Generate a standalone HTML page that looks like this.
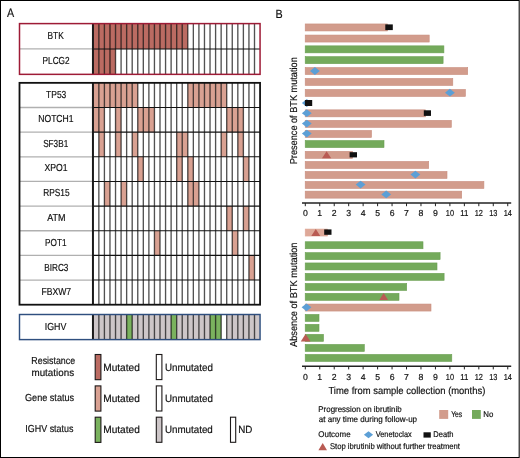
<!DOCTYPE html>
<html><head><meta charset="utf-8"><style>
html,body{margin:0;padding:0;background:#fff;}
body{width:520px;height:458px;overflow:hidden;position:relative;}
text{stroke:#111;stroke-width:0.18px;}
svg{display:block;will-change:transform;text-rendering:geometricPrecision;font-family:"Liberation Sans", sans-serif;}
</style></head><body>
<svg width="520" height="458" viewBox="0 0 520 458">
<rect x="0" y="0" width="520" height="458" fill="#fff"/>
<rect x="92.95" y="23.60" width="5.90" height="25.37" fill="#bb6b62"/>
<rect x="98.85" y="23.60" width="5.56" height="25.37" fill="#bb6b62"/>
<rect x="104.41" y="23.60" width="5.56" height="25.37" fill="#bb6b62"/>
<rect x="109.97" y="23.60" width="5.56" height="25.37" fill="#bb6b62"/>
<rect x="115.53" y="23.60" width="5.56" height="25.37" fill="#bb6b62"/>
<rect x="121.09" y="23.60" width="5.56" height="25.37" fill="#bb6b62"/>
<rect x="126.64" y="23.60" width="5.56" height="25.37" fill="#bb6b62"/>
<rect x="132.20" y="23.60" width="5.56" height="25.37" fill="#bb6b62"/>
<rect x="137.76" y="23.60" width="5.56" height="25.37" fill="#bb6b62"/>
<rect x="143.32" y="23.60" width="5.56" height="25.37" fill="#bb6b62"/>
<rect x="148.88" y="23.60" width="5.56" height="25.37" fill="#bb6b62"/>
<rect x="154.44" y="23.60" width="5.56" height="25.37" fill="#bb6b62"/>
<rect x="160.00" y="23.60" width="5.56" height="25.37" fill="#bb6b62"/>
<rect x="165.56" y="23.60" width="5.56" height="25.37" fill="#bb6b62"/>
<rect x="171.12" y="23.60" width="5.56" height="25.37" fill="#bb6b62"/>
<rect x="176.68" y="23.60" width="5.56" height="25.37" fill="#bb6b62"/>
<rect x="182.23" y="23.60" width="5.56" height="25.37" fill="#bb6b62"/>
<rect x="92.95" y="48.97" width="5.90" height="25.37" fill="#bb6b62"/>
<rect x="98.85" y="48.97" width="5.56" height="25.37" fill="#bb6b62"/>
<rect x="104.41" y="48.97" width="5.56" height="25.37" fill="#bb6b62"/>
<rect x="109.97" y="48.97" width="5.56" height="25.37" fill="#bb6b62"/>
<line x1="98.85" y1="23.6" x2="98.85" y2="74.35" stroke="#000" stroke-opacity="0.68" stroke-width="1.35"/>
<line x1="104.41" y1="23.6" x2="104.41" y2="74.35" stroke="#000" stroke-opacity="0.68" stroke-width="1.35"/>
<line x1="109.97" y1="23.6" x2="109.97" y2="74.35" stroke="#000" stroke-opacity="0.68" stroke-width="1.35"/>
<line x1="115.53" y1="23.6" x2="115.53" y2="74.35" stroke="#000" stroke-opacity="0.68" stroke-width="1.35"/>
<line x1="121.09" y1="23.6" x2="121.09" y2="74.35" stroke="#000" stroke-opacity="0.68" stroke-width="1.35"/>
<line x1="126.64" y1="23.6" x2="126.64" y2="74.35" stroke="#000" stroke-opacity="0.68" stroke-width="1.35"/>
<line x1="132.20" y1="23.6" x2="132.20" y2="74.35" stroke="#000" stroke-opacity="0.68" stroke-width="1.35"/>
<line x1="137.76" y1="23.6" x2="137.76" y2="74.35" stroke="#000" stroke-opacity="0.68" stroke-width="1.35"/>
<line x1="143.32" y1="23.6" x2="143.32" y2="74.35" stroke="#000" stroke-opacity="0.68" stroke-width="1.35"/>
<line x1="148.88" y1="23.6" x2="148.88" y2="74.35" stroke="#000" stroke-opacity="0.68" stroke-width="1.35"/>
<line x1="154.44" y1="23.6" x2="154.44" y2="74.35" stroke="#000" stroke-opacity="0.68" stroke-width="1.35"/>
<line x1="160.00" y1="23.6" x2="160.00" y2="74.35" stroke="#000" stroke-opacity="0.68" stroke-width="1.35"/>
<line x1="165.56" y1="23.6" x2="165.56" y2="74.35" stroke="#000" stroke-opacity="0.68" stroke-width="1.35"/>
<line x1="171.12" y1="23.6" x2="171.12" y2="74.35" stroke="#000" stroke-opacity="0.68" stroke-width="1.35"/>
<line x1="176.68" y1="23.6" x2="176.68" y2="74.35" stroke="#000" stroke-opacity="0.68" stroke-width="1.35"/>
<line x1="182.23" y1="23.6" x2="182.23" y2="74.35" stroke="#000" stroke-opacity="0.68" stroke-width="1.35"/>
<line x1="187.79" y1="23.6" x2="187.79" y2="74.35" stroke="#000" stroke-opacity="0.68" stroke-width="1.35"/>
<line x1="193.35" y1="23.6" x2="193.35" y2="74.35" stroke="#000" stroke-opacity="0.68" stroke-width="1.35"/>
<line x1="198.91" y1="23.6" x2="198.91" y2="74.35" stroke="#000" stroke-opacity="0.68" stroke-width="1.35"/>
<line x1="204.47" y1="23.6" x2="204.47" y2="74.35" stroke="#000" stroke-opacity="0.68" stroke-width="1.35"/>
<line x1="210.03" y1="23.6" x2="210.03" y2="74.35" stroke="#000" stroke-opacity="0.68" stroke-width="1.35"/>
<line x1="215.59" y1="23.6" x2="215.59" y2="74.35" stroke="#000" stroke-opacity="0.68" stroke-width="1.35"/>
<line x1="221.15" y1="23.6" x2="221.15" y2="74.35" stroke="#000" stroke-opacity="0.68" stroke-width="1.35"/>
<line x1="226.71" y1="23.6" x2="226.71" y2="74.35" stroke="#000" stroke-opacity="0.68" stroke-width="1.35"/>
<line x1="232.26" y1="23.6" x2="232.26" y2="74.35" stroke="#000" stroke-opacity="0.68" stroke-width="1.35"/>
<line x1="237.82" y1="23.6" x2="237.82" y2="74.35" stroke="#000" stroke-opacity="0.68" stroke-width="1.35"/>
<line x1="243.38" y1="23.6" x2="243.38" y2="74.35" stroke="#000" stroke-opacity="0.68" stroke-width="1.35"/>
<line x1="248.94" y1="23.6" x2="248.94" y2="74.35" stroke="#000" stroke-opacity="0.68" stroke-width="1.35"/>
<line x1="254.50" y1="23.6" x2="254.50" y2="74.35" stroke="#000" stroke-opacity="0.68" stroke-width="1.35"/>
<line x1="19.5" y1="48.97" x2="92.95" y2="48.97" stroke="#b0b0b0" stroke-width="1.3"/>
<line x1="92.95" y1="48.97" x2="260.06" y2="48.97" stroke="#111" stroke-width="1.1"/>
<line x1="92.95" y1="23.6" x2="92.95" y2="74.35" stroke="#1a1a1a" stroke-width="2.0"/>
<text x="47.42" y="38.7" font-size="10.2" fill="#111111" textLength="16.37" lengthAdjust="spacingAndGlyphs">BTK</text>
<text x="42.58" y="64.2" font-size="10.2" fill="#111111" textLength="27.01" lengthAdjust="spacingAndGlyphs">PLCG2</text>
<rect x="19.5" y="23.6" width="240.56" height="50.75" fill="none" stroke="#9e1b36" stroke-width="1.5"/>
<rect x="92.95" y="82.85" width="5.90" height="24.65" fill="#d9a192"/>
<rect x="98.85" y="82.85" width="5.56" height="24.65" fill="#d9a192"/>
<rect x="104.41" y="82.85" width="5.56" height="24.65" fill="#d9a192"/>
<rect x="109.97" y="82.85" width="5.56" height="24.65" fill="#d9a192"/>
<rect x="115.53" y="82.85" width="5.56" height="24.65" fill="#d9a192"/>
<rect x="121.09" y="82.85" width="5.56" height="24.65" fill="#d9a192"/>
<rect x="126.64" y="82.85" width="5.56" height="24.65" fill="#d9a192"/>
<rect x="132.20" y="82.85" width="5.56" height="24.65" fill="#d9a192"/>
<rect x="187.79" y="82.85" width="5.56" height="24.65" fill="#d9a192"/>
<rect x="193.35" y="82.85" width="5.56" height="24.65" fill="#d9a192"/>
<rect x="198.91" y="82.85" width="5.56" height="24.65" fill="#d9a192"/>
<rect x="204.47" y="82.85" width="5.56" height="24.65" fill="#d9a192"/>
<rect x="210.03" y="82.85" width="5.56" height="24.65" fill="#d9a192"/>
<rect x="215.59" y="82.85" width="5.56" height="24.65" fill="#d9a192"/>
<rect x="221.15" y="82.85" width="5.56" height="24.65" fill="#d9a192"/>
<rect x="92.95" y="107.50" width="5.90" height="24.65" fill="#d9a192"/>
<rect x="98.85" y="107.50" width="5.56" height="24.65" fill="#d9a192"/>
<rect x="115.53" y="107.50" width="5.56" height="24.65" fill="#d9a192"/>
<rect x="137.76" y="107.50" width="5.56" height="24.65" fill="#d9a192"/>
<rect x="143.32" y="107.50" width="5.56" height="24.65" fill="#d9a192"/>
<rect x="148.88" y="107.50" width="5.56" height="24.65" fill="#d9a192"/>
<rect x="226.71" y="107.50" width="5.56" height="24.65" fill="#d9a192"/>
<rect x="232.26" y="107.50" width="5.56" height="24.65" fill="#d9a192"/>
<rect x="237.82" y="107.50" width="5.56" height="24.65" fill="#d9a192"/>
<rect x="98.85" y="132.15" width="5.56" height="24.65" fill="#d9a192"/>
<rect x="115.53" y="132.15" width="5.56" height="24.65" fill="#d9a192"/>
<rect x="132.20" y="132.15" width="5.56" height="24.65" fill="#d9a192"/>
<rect x="176.68" y="132.15" width="5.56" height="24.65" fill="#d9a192"/>
<rect x="182.23" y="132.15" width="5.56" height="24.65" fill="#d9a192"/>
<rect x="221.15" y="132.15" width="5.56" height="24.65" fill="#d9a192"/>
<rect x="237.82" y="132.15" width="5.56" height="24.65" fill="#d9a192"/>
<rect x="137.76" y="156.80" width="5.56" height="24.65" fill="#d9a192"/>
<rect x="176.68" y="156.80" width="5.56" height="24.65" fill="#d9a192"/>
<rect x="187.79" y="156.80" width="5.56" height="24.65" fill="#d9a192"/>
<rect x="243.38" y="156.80" width="5.56" height="24.65" fill="#d9a192"/>
<rect x="104.41" y="181.45" width="5.56" height="24.65" fill="#d9a192"/>
<rect x="121.09" y="181.45" width="5.56" height="24.65" fill="#d9a192"/>
<rect x="187.79" y="181.45" width="5.56" height="24.65" fill="#d9a192"/>
<rect x="193.35" y="181.45" width="5.56" height="24.65" fill="#d9a192"/>
<rect x="226.71" y="206.10" width="5.56" height="24.65" fill="#d9a192"/>
<rect x="243.38" y="206.10" width="5.56" height="24.65" fill="#d9a192"/>
<rect x="154.44" y="230.75" width="5.56" height="24.65" fill="#d9a192"/>
<rect x="232.26" y="230.75" width="5.56" height="24.65" fill="#d9a192"/>
<rect x="248.94" y="255.40" width="5.56" height="24.65" fill="#d9a192"/>
<line x1="98.85" y1="82.85" x2="98.85" y2="304.7" stroke="#000" stroke-opacity="0.68" stroke-width="1.35"/>
<line x1="104.41" y1="82.85" x2="104.41" y2="304.7" stroke="#000" stroke-opacity="0.68" stroke-width="1.35"/>
<line x1="109.97" y1="82.85" x2="109.97" y2="304.7" stroke="#000" stroke-opacity="0.68" stroke-width="1.35"/>
<line x1="115.53" y1="82.85" x2="115.53" y2="304.7" stroke="#000" stroke-opacity="0.68" stroke-width="1.35"/>
<line x1="121.09" y1="82.85" x2="121.09" y2="304.7" stroke="#000" stroke-opacity="0.68" stroke-width="1.35"/>
<line x1="126.64" y1="82.85" x2="126.64" y2="304.7" stroke="#000" stroke-opacity="0.68" stroke-width="1.35"/>
<line x1="132.20" y1="82.85" x2="132.20" y2="304.7" stroke="#000" stroke-opacity="0.68" stroke-width="1.35"/>
<line x1="137.76" y1="82.85" x2="137.76" y2="304.7" stroke="#000" stroke-opacity="0.68" stroke-width="1.35"/>
<line x1="143.32" y1="82.85" x2="143.32" y2="304.7" stroke="#000" stroke-opacity="0.68" stroke-width="1.35"/>
<line x1="148.88" y1="82.85" x2="148.88" y2="304.7" stroke="#000" stroke-opacity="0.68" stroke-width="1.35"/>
<line x1="154.44" y1="82.85" x2="154.44" y2="304.7" stroke="#000" stroke-opacity="0.68" stroke-width="1.35"/>
<line x1="160.00" y1="82.85" x2="160.00" y2="304.7" stroke="#000" stroke-opacity="0.68" stroke-width="1.35"/>
<line x1="165.56" y1="82.85" x2="165.56" y2="304.7" stroke="#000" stroke-opacity="0.68" stroke-width="1.35"/>
<line x1="171.12" y1="82.85" x2="171.12" y2="304.7" stroke="#000" stroke-opacity="0.68" stroke-width="1.35"/>
<line x1="176.68" y1="82.85" x2="176.68" y2="304.7" stroke="#000" stroke-opacity="0.68" stroke-width="1.35"/>
<line x1="182.23" y1="82.85" x2="182.23" y2="304.7" stroke="#000" stroke-opacity="0.68" stroke-width="1.35"/>
<line x1="187.79" y1="82.85" x2="187.79" y2="304.7" stroke="#000" stroke-opacity="0.68" stroke-width="1.35"/>
<line x1="193.35" y1="82.85" x2="193.35" y2="304.7" stroke="#000" stroke-opacity="0.68" stroke-width="1.35"/>
<line x1="198.91" y1="82.85" x2="198.91" y2="304.7" stroke="#000" stroke-opacity="0.68" stroke-width="1.35"/>
<line x1="204.47" y1="82.85" x2="204.47" y2="304.7" stroke="#000" stroke-opacity="0.68" stroke-width="1.35"/>
<line x1="210.03" y1="82.85" x2="210.03" y2="304.7" stroke="#000" stroke-opacity="0.68" stroke-width="1.35"/>
<line x1="215.59" y1="82.85" x2="215.59" y2="304.7" stroke="#000" stroke-opacity="0.68" stroke-width="1.35"/>
<line x1="221.15" y1="82.85" x2="221.15" y2="304.7" stroke="#000" stroke-opacity="0.68" stroke-width="1.35"/>
<line x1="226.71" y1="82.85" x2="226.71" y2="304.7" stroke="#000" stroke-opacity="0.68" stroke-width="1.35"/>
<line x1="232.26" y1="82.85" x2="232.26" y2="304.7" stroke="#000" stroke-opacity="0.68" stroke-width="1.35"/>
<line x1="237.82" y1="82.85" x2="237.82" y2="304.7" stroke="#000" stroke-opacity="0.68" stroke-width="1.35"/>
<line x1="243.38" y1="82.85" x2="243.38" y2="304.7" stroke="#000" stroke-opacity="0.68" stroke-width="1.35"/>
<line x1="248.94" y1="82.85" x2="248.94" y2="304.7" stroke="#000" stroke-opacity="0.68" stroke-width="1.35"/>
<line x1="254.50" y1="82.85" x2="254.50" y2="304.7" stroke="#000" stroke-opacity="0.68" stroke-width="1.35"/>
<line x1="19.5" y1="107.50" x2="92.95" y2="107.50" stroke="#b0b0b0" stroke-width="1.3"/>
<line x1="92.95" y1="107.50" x2="260.06" y2="107.50" stroke="#111" stroke-width="1.1"/>
<line x1="19.5" y1="132.15" x2="92.95" y2="132.15" stroke="#b0b0b0" stroke-width="1.3"/>
<line x1="92.95" y1="132.15" x2="260.06" y2="132.15" stroke="#111" stroke-width="1.1"/>
<line x1="19.5" y1="156.80" x2="92.95" y2="156.80" stroke="#b0b0b0" stroke-width="1.3"/>
<line x1="92.95" y1="156.80" x2="260.06" y2="156.80" stroke="#111" stroke-width="1.1"/>
<line x1="19.5" y1="181.45" x2="92.95" y2="181.45" stroke="#b0b0b0" stroke-width="1.3"/>
<line x1="92.95" y1="181.45" x2="260.06" y2="181.45" stroke="#111" stroke-width="1.1"/>
<line x1="19.5" y1="206.10" x2="92.95" y2="206.10" stroke="#b0b0b0" stroke-width="1.3"/>
<line x1="92.95" y1="206.10" x2="260.06" y2="206.10" stroke="#111" stroke-width="1.1"/>
<line x1="19.5" y1="230.75" x2="92.95" y2="230.75" stroke="#b0b0b0" stroke-width="1.3"/>
<line x1="92.95" y1="230.75" x2="260.06" y2="230.75" stroke="#111" stroke-width="1.1"/>
<line x1="19.5" y1="255.40" x2="92.95" y2="255.40" stroke="#b0b0b0" stroke-width="1.3"/>
<line x1="92.95" y1="255.40" x2="260.06" y2="255.40" stroke="#111" stroke-width="1.1"/>
<line x1="19.5" y1="280.05" x2="92.95" y2="280.05" stroke="#b0b0b0" stroke-width="1.3"/>
<line x1="92.95" y1="280.05" x2="260.06" y2="280.05" stroke="#111" stroke-width="1.1"/>
<line x1="92.95" y1="82.85" x2="92.95" y2="304.7" stroke="#1a1a1a" stroke-width="2.0"/>
<text x="46.10" y="97.7" font-size="10.2" fill="#111111" textLength="20.24" lengthAdjust="spacingAndGlyphs">TP53</text>
<text x="38.25" y="122.2" font-size="10.2" fill="#111111" textLength="35.30" lengthAdjust="spacingAndGlyphs">NOTCH1</text>
<text x="43.15" y="146.7" font-size="10.2" fill="#111111" textLength="25.06" lengthAdjust="spacingAndGlyphs">SF3B1</text>
<text x="44.48" y="171.4" font-size="10.2" fill="#111111" textLength="23.13" lengthAdjust="spacingAndGlyphs">XPO1</text>
<text x="43.15" y="196.2" font-size="10.2" fill="#111111" textLength="26.45" lengthAdjust="spacingAndGlyphs">RPS15</text>
<text x="47.18" y="220.7" font-size="10.2" fill="#111111" textLength="18.31" lengthAdjust="spacingAndGlyphs">ATM</text>
<text x="45.12" y="245.7" font-size="10.2" fill="#111111" textLength="21.51" lengthAdjust="spacingAndGlyphs">POT1</text>
<text x="44.27" y="270.6" font-size="10.2" fill="#111111" textLength="24.15" lengthAdjust="spacingAndGlyphs">BIRC3</text>
<text x="41.39" y="295.2" font-size="10.2" fill="#111111" textLength="29.81" lengthAdjust="spacingAndGlyphs">FBXW7</text>
<rect x="19.5" y="82.85" width="240.56" height="221.85" fill="none" stroke="#111" stroke-width="1.8"/>
<rect x="92.95" y="314.50" width="5.90" height="25.10" fill="#cdc6c8"/>
<rect x="98.85" y="314.50" width="5.56" height="25.10" fill="#cdc6c8"/>
<rect x="104.41" y="314.50" width="5.56" height="25.10" fill="#cdc6c8"/>
<rect x="109.97" y="314.50" width="5.56" height="25.10" fill="#cdc6c8"/>
<rect x="115.53" y="314.50" width="5.56" height="25.10" fill="#cdc6c8"/>
<rect x="121.09" y="314.50" width="5.56" height="25.10" fill="#cdc6c8"/>
<rect x="126.64" y="314.50" width="5.56" height="25.10" fill="#7ab25e"/>
<rect x="132.20" y="314.50" width="5.56" height="25.10" fill="#cdc6c8"/>
<rect x="137.76" y="314.50" width="5.56" height="25.10" fill="#cdc6c8"/>
<rect x="143.32" y="314.50" width="5.56" height="25.10" fill="#cdc6c8"/>
<rect x="148.88" y="314.50" width="5.56" height="25.10" fill="#cdc6c8"/>
<rect x="154.44" y="314.50" width="5.56" height="25.10" fill="#cdc6c8"/>
<rect x="160.00" y="314.50" width="5.56" height="25.10" fill="#cdc6c8"/>
<rect x="165.56" y="314.50" width="5.56" height="25.10" fill="#cdc6c8"/>
<rect x="171.12" y="314.50" width="5.56" height="25.10" fill="#7ab25e"/>
<rect x="176.68" y="314.50" width="5.56" height="25.10" fill="#cdc6c8"/>
<rect x="182.23" y="314.50" width="5.56" height="25.10" fill="#cdc6c8"/>
<rect x="187.79" y="314.50" width="5.56" height="25.10" fill="#cdc6c8"/>
<rect x="193.35" y="314.50" width="5.56" height="25.10" fill="#cdc6c8"/>
<rect x="198.91" y="314.50" width="5.56" height="25.10" fill="#cdc6c8"/>
<rect x="204.47" y="314.50" width="5.56" height="25.10" fill="#cdc6c8"/>
<rect x="210.03" y="314.50" width="5.56" height="25.10" fill="#7ab25e"/>
<rect x="215.59" y="314.50" width="5.56" height="25.10" fill="#7ab25e"/>
<rect x="226.71" y="314.50" width="5.56" height="25.10" fill="#cdc6c8"/>
<rect x="232.26" y="314.50" width="5.56" height="25.10" fill="#cdc6c8"/>
<rect x="237.82" y="314.50" width="5.56" height="25.10" fill="#cdc6c8"/>
<rect x="243.38" y="314.50" width="5.56" height="25.10" fill="#cdc6c8"/>
<rect x="248.94" y="314.50" width="5.56" height="25.10" fill="#cdc6c8"/>
<rect x="254.50" y="314.50" width="5.56" height="25.10" fill="#cdc6c8"/>
<line x1="98.85" y1="314.5" x2="98.85" y2="339.6" stroke="#000" stroke-opacity="0.68" stroke-width="1.35"/>
<line x1="104.41" y1="314.5" x2="104.41" y2="339.6" stroke="#000" stroke-opacity="0.68" stroke-width="1.35"/>
<line x1="109.97" y1="314.5" x2="109.97" y2="339.6" stroke="#000" stroke-opacity="0.68" stroke-width="1.35"/>
<line x1="115.53" y1="314.5" x2="115.53" y2="339.6" stroke="#000" stroke-opacity="0.68" stroke-width="1.35"/>
<line x1="121.09" y1="314.5" x2="121.09" y2="339.6" stroke="#000" stroke-opacity="0.68" stroke-width="1.35"/>
<line x1="126.64" y1="314.5" x2="126.64" y2="339.6" stroke="#000" stroke-opacity="0.68" stroke-width="1.35"/>
<line x1="132.20" y1="314.5" x2="132.20" y2="339.6" stroke="#000" stroke-opacity="0.68" stroke-width="1.35"/>
<line x1="137.76" y1="314.5" x2="137.76" y2="339.6" stroke="#000" stroke-opacity="0.68" stroke-width="1.35"/>
<line x1="143.32" y1="314.5" x2="143.32" y2="339.6" stroke="#000" stroke-opacity="0.68" stroke-width="1.35"/>
<line x1="148.88" y1="314.5" x2="148.88" y2="339.6" stroke="#000" stroke-opacity="0.68" stroke-width="1.35"/>
<line x1="154.44" y1="314.5" x2="154.44" y2="339.6" stroke="#000" stroke-opacity="0.68" stroke-width="1.35"/>
<line x1="160.00" y1="314.5" x2="160.00" y2="339.6" stroke="#000" stroke-opacity="0.68" stroke-width="1.35"/>
<line x1="165.56" y1="314.5" x2="165.56" y2="339.6" stroke="#000" stroke-opacity="0.68" stroke-width="1.35"/>
<line x1="171.12" y1="314.5" x2="171.12" y2="339.6" stroke="#000" stroke-opacity="0.68" stroke-width="1.35"/>
<line x1="176.68" y1="314.5" x2="176.68" y2="339.6" stroke="#000" stroke-opacity="0.68" stroke-width="1.35"/>
<line x1="182.23" y1="314.5" x2="182.23" y2="339.6" stroke="#000" stroke-opacity="0.68" stroke-width="1.35"/>
<line x1="187.79" y1="314.5" x2="187.79" y2="339.6" stroke="#000" stroke-opacity="0.68" stroke-width="1.35"/>
<line x1="193.35" y1="314.5" x2="193.35" y2="339.6" stroke="#000" stroke-opacity="0.68" stroke-width="1.35"/>
<line x1="198.91" y1="314.5" x2="198.91" y2="339.6" stroke="#000" stroke-opacity="0.68" stroke-width="1.35"/>
<line x1="204.47" y1="314.5" x2="204.47" y2="339.6" stroke="#000" stroke-opacity="0.68" stroke-width="1.35"/>
<line x1="210.03" y1="314.5" x2="210.03" y2="339.6" stroke="#000" stroke-opacity="0.68" stroke-width="1.35"/>
<line x1="215.59" y1="314.5" x2="215.59" y2="339.6" stroke="#000" stroke-opacity="0.68" stroke-width="1.35"/>
<line x1="221.15" y1="314.5" x2="221.15" y2="339.6" stroke="#000" stroke-opacity="0.68" stroke-width="1.35"/>
<line x1="226.71" y1="314.5" x2="226.71" y2="339.6" stroke="#000" stroke-opacity="0.68" stroke-width="1.35"/>
<line x1="232.26" y1="314.5" x2="232.26" y2="339.6" stroke="#000" stroke-opacity="0.68" stroke-width="1.35"/>
<line x1="237.82" y1="314.5" x2="237.82" y2="339.6" stroke="#000" stroke-opacity="0.68" stroke-width="1.35"/>
<line x1="243.38" y1="314.5" x2="243.38" y2="339.6" stroke="#000" stroke-opacity="0.68" stroke-width="1.35"/>
<line x1="248.94" y1="314.5" x2="248.94" y2="339.6" stroke="#000" stroke-opacity="0.68" stroke-width="1.35"/>
<line x1="254.50" y1="314.5" x2="254.50" y2="339.6" stroke="#000" stroke-opacity="0.68" stroke-width="1.35"/>
<line x1="92.95" y1="314.5" x2="92.95" y2="339.6" stroke="#1a1a1a" stroke-width="2.0"/>
<text x="44.68" y="329.5" font-size="10.2" fill="#111111" textLength="21.64" lengthAdjust="spacingAndGlyphs">IGHV</text>
<rect x="19.5" y="314.5" width="240.56" height="25.10" fill="none" stroke="#2f4f7f" stroke-width="1.45"/>
<rect x="95.2" y="354.5" width="5.7" height="25.2" fill="#bb6b62" stroke="#1c1818" stroke-width="1.1"/>
<rect x="156.3" y="354.5" width="5.6" height="25.1" fill="#fff" stroke="#1c1818" stroke-width="1.1"/>
<rect x="95.2" y="385.9" width="5.7" height="25.2" fill="#d9a192" stroke="#1c1818" stroke-width="1.1"/>
<rect x="156.3" y="385.9" width="5.6" height="25.1" fill="#fff" stroke="#1c1818" stroke-width="1.1"/>
<rect x="95.2" y="417.2" width="5.7" height="25.2" fill="#7ab25e" stroke="#1c1818" stroke-width="1.1"/>
<rect x="156.3" y="417.2" width="5.6" height="25.1" fill="#cdc6c8" stroke="#1c1818" stroke-width="1.1"/>
<rect x="230.5" y="417.2" width="5.2" height="25.1" fill="#fff" stroke="#1c1818" stroke-width="1.1"/>
<text x="103.26" y="370.7" font-size="10.4" fill="#111111" textLength="36.55" lengthAdjust="spacingAndGlyphs">Mutated</text>
<text x="103.26" y="401.8" font-size="10.4" fill="#111111" textLength="36.55" lengthAdjust="spacingAndGlyphs">Mutated</text>
<text x="103.26" y="432.9" font-size="10.4" fill="#111111" textLength="36.55" lengthAdjust="spacingAndGlyphs">Mutated</text>
<text x="164.88" y="370.9" font-size="10.4" fill="#111111" textLength="47.97" lengthAdjust="spacingAndGlyphs">Unmutated</text>
<text x="164.88" y="401.9" font-size="10.4" fill="#111111" textLength="47.97" lengthAdjust="spacingAndGlyphs">Unmutated</text>
<text x="164.88" y="433.0" font-size="10.4" fill="#111111" textLength="47.93" lengthAdjust="spacingAndGlyphs">Unmutated</text>
<text x="238.18" y="433.0" font-size="10.4" fill="#111111" textLength="14.16" lengthAdjust="spacingAndGlyphs">ND</text>
<text x="31.35" y="363.9" font-size="10.2" fill="#111111" textLength="43.77" lengthAdjust="spacingAndGlyphs">Resistance</text>
<text x="31.48" y="375.5" font-size="10.2" fill="#111111" textLength="42.59" lengthAdjust="spacingAndGlyphs">mutations</text>
<text x="24.97" y="401.4" font-size="10.2" fill="#111111" textLength="49.17" lengthAdjust="spacingAndGlyphs">Gene status</text>
<text x="25.35" y="432.4" font-size="10.2" fill="#111111" textLength="48.11" lengthAdjust="spacingAndGlyphs">IGHV status</text>
<text x="7.11" y="17.0" font-size="12.3" fill="#111111" textLength="7.16" lengthAdjust="spacingAndGlyphs">A</text>
<text x="275.58" y="17.6" font-size="12.0" fill="#111111" textLength="7.17" lengthAdjust="spacingAndGlyphs">B</text>
<rect x="305.2" y="23.95" width="82.30" height="7.0" fill="#d29c8c" stroke="#c88e7e" stroke-width="0.6"/>
<rect x="305.2" y="35.050000000000004" width="124.00" height="7.0" fill="#d29c8c" stroke="#c88e7e" stroke-width="0.6"/>
<rect x="305.2" y="45.85" width="138.70" height="7.0" fill="#74aa5b" stroke="#6a9f52" stroke-width="0.6"/>
<rect x="305.2" y="56.650000000000006" width="137.90" height="7.0" fill="#74aa5b" stroke="#6a9f52" stroke-width="0.6"/>
<rect x="305.2" y="67.55" width="162.50" height="7.0" fill="#d29c8c" stroke="#c88e7e" stroke-width="0.6"/>
<rect x="305.2" y="78.45" width="147.60" height="7.0" fill="#d29c8c" stroke="#c88e7e" stroke-width="0.6"/>
<rect x="305.2" y="89.45" width="160.20" height="7.0" fill="#d29c8c" stroke="#c88e7e" stroke-width="0.6"/>
<rect x="305.2" y="109.85000000000001" width="120.30" height="7.0" fill="#d29c8c" stroke="#c88e7e" stroke-width="0.6"/>
<rect x="305.2" y="120.35000000000001" width="146.10" height="7.0" fill="#d29c8c" stroke="#c88e7e" stroke-width="0.6"/>
<rect x="305.2" y="130.45" width="66.30" height="7.0" fill="#d29c8c" stroke="#c88e7e" stroke-width="0.6"/>
<rect x="305.2" y="140.54999999999998" width="78.80" height="7.0" fill="#74aa5b" stroke="#6a9f52" stroke-width="0.6"/>
<rect x="305.2" y="151.35" width="47.40" height="7.0" fill="#d29c8c" stroke="#c88e7e" stroke-width="0.6"/>
<rect x="305.2" y="161.45" width="123.50" height="7.0" fill="#d29c8c" stroke="#c88e7e" stroke-width="0.6"/>
<rect x="305.2" y="171.45" width="141.80" height="7.0" fill="#d29c8c" stroke="#c88e7e" stroke-width="0.6"/>
<rect x="305.2" y="181.45" width="178.70" height="7.0" fill="#d29c8c" stroke="#c88e7e" stroke-width="0.6"/>
<rect x="305.2" y="191.14999999999998" width="156.50" height="7.0" fill="#d29c8c" stroke="#c88e7e" stroke-width="0.6"/>
<polygon points="310.00,71.00 314.90,67.10 319.80,71.00 314.90,74.90" fill="#5c9fd6"/>
<polygon points="445.00,92.70 449.90,88.80 454.80,92.70 449.90,96.60" fill="#5c9fd6"/>
<polygon points="301.90,103.00 306.80,99.10 311.70,103.00 306.80,106.90" fill="#5c9fd6"/>
<rect x="304.9" y="100.0" width="7.30" height="6.00" fill="#111111"/>
<polygon points="301.90,113.20 306.80,109.30 311.70,113.20 306.80,117.10" fill="#5c9fd6"/>
<rect x="423.8" y="110.3" width="7.20" height="5.60" fill="#111111"/>
<polygon points="301.90,123.60 306.80,119.70 311.70,123.60 306.80,127.50" fill="#5c9fd6"/>
<polygon points="301.90,133.60 306.80,129.70 311.70,133.60 306.80,137.50" fill="#5c9fd6"/>
<polygon points="322.00,158.2 326.60,151.2 331.20,158.2" fill="#b95b53"/>
<rect x="349.6" y="152.2" width="7.40" height="5.20" fill="#111111"/>
<polygon points="410.50,174.60 415.40,170.70 420.30,174.60 415.40,178.50" fill="#5c9fd6"/>
<polygon points="355.70,184.60 360.60,180.70 365.50,184.60 360.60,188.50" fill="#5c9fd6"/>
<polygon points="381.30,194.40 386.20,190.50 391.10,194.40 386.20,198.30" fill="#5c9fd6"/>
<rect x="385.3" y="24.4" width="7.50" height="5.70" fill="#111111"/>
<rect x="305.2" y="229.04999999999998" width="22.30" height="7.0" fill="#dea898" stroke="#dea898" stroke-width="0.6"/>
<rect x="305.2" y="241.75" width="117.80" height="7.0" fill="#74aa5b" stroke="#6a9f52" stroke-width="0.6"/>
<rect x="305.2" y="252.64999999999998" width="134.90" height="7.0" fill="#74aa5b" stroke="#6a9f52" stroke-width="0.6"/>
<rect x="305.2" y="262.95" width="131.80" height="7.0" fill="#74aa5b" stroke="#6a9f52" stroke-width="0.6"/>
<rect x="305.2" y="273.34999999999997" width="138.90" height="7.0" fill="#74aa5b" stroke="#6a9f52" stroke-width="0.6"/>
<rect x="305.2" y="283.45" width="101.50" height="7.0" fill="#74aa5b" stroke="#6a9f52" stroke-width="0.6"/>
<rect x="305.2" y="293.34999999999997" width="93.80" height="7.0" fill="#74aa5b" stroke="#6a9f52" stroke-width="0.6"/>
<rect x="305.2" y="304.05" width="125.80" height="7.0" fill="#d29c8c" stroke="#c88e7e" stroke-width="0.6"/>
<rect x="305.2" y="314.45" width="13.80" height="7.0" fill="#74aa5b" stroke="#6a9f52" stroke-width="0.6"/>
<rect x="305.2" y="324.34999999999997" width="13.80" height="7.0" fill="#74aa5b" stroke="#6a9f52" stroke-width="0.6"/>
<rect x="305.2" y="334.34999999999997" width="18.30" height="7.0" fill="#74aa5b" stroke="#6a9f52" stroke-width="0.6"/>
<rect x="305.2" y="344.45" width="59.10" height="7.0" fill="#74aa5b" stroke="#6a9f52" stroke-width="0.6"/>
<rect x="305.2" y="354.45" width="146.60" height="7.0" fill="#74aa5b" stroke="#6a9f52" stroke-width="0.6"/>
<polygon points="311.30,235.9 315.80,229.1 320.30,235.9" fill="#b95b53"/>
<rect x="324.2" y="229.4" width="7.30" height="5.40" fill="#111111"/>
<polygon points="379.35,299.9 383.70,293.0 388.05,299.9" fill="#b95b53"/>
<polygon points="301.60,307.30 306.50,303.40 311.40,307.30 306.50,311.20" fill="#5c9fd6"/>
<polygon points="300.75,341.4 305.60,333.9 310.45,341.4" fill="#b95b53"/>
<line x1="302" y1="203.0" x2="511.2" y2="203.0" stroke="#222" stroke-width="1.5"/>
<line x1="305.30" y1="203.0" x2="305.30" y2="206.2" stroke="#222" stroke-width="1"/>
<text x="305.30" y="216.4" font-size="8.7" text-anchor="middle" fill="#111111">0</text>
<line x1="319.76" y1="203.0" x2="319.76" y2="206.2" stroke="#222" stroke-width="1"/>
<text x="319.76" y="216.4" font-size="8.7" text-anchor="middle" fill="#111111">1</text>
<line x1="334.22" y1="203.0" x2="334.22" y2="206.2" stroke="#222" stroke-width="1"/>
<text x="334.22" y="216.4" font-size="8.7" text-anchor="middle" fill="#111111">2</text>
<line x1="348.68" y1="203.0" x2="348.68" y2="206.2" stroke="#222" stroke-width="1"/>
<text x="348.68" y="216.4" font-size="8.7" text-anchor="middle" fill="#111111">3</text>
<line x1="363.14" y1="203.0" x2="363.14" y2="206.2" stroke="#222" stroke-width="1"/>
<text x="363.14" y="216.4" font-size="8.7" text-anchor="middle" fill="#111111">4</text>
<line x1="377.60" y1="203.0" x2="377.60" y2="206.2" stroke="#222" stroke-width="1"/>
<text x="377.60" y="216.4" font-size="8.7" text-anchor="middle" fill="#111111">5</text>
<line x1="392.06" y1="203.0" x2="392.06" y2="206.2" stroke="#222" stroke-width="1"/>
<text x="392.06" y="216.4" font-size="8.7" text-anchor="middle" fill="#111111">6</text>
<line x1="406.52" y1="203.0" x2="406.52" y2="206.2" stroke="#222" stroke-width="1"/>
<text x="406.52" y="216.4" font-size="8.7" text-anchor="middle" fill="#111111">7</text>
<line x1="420.98" y1="203.0" x2="420.98" y2="206.2" stroke="#222" stroke-width="1"/>
<text x="420.98" y="216.4" font-size="8.7" text-anchor="middle" fill="#111111">8</text>
<line x1="435.44" y1="203.0" x2="435.44" y2="206.2" stroke="#222" stroke-width="1"/>
<text x="435.44" y="216.4" font-size="8.7" text-anchor="middle" fill="#111111">9</text>
<line x1="449.90" y1="203.0" x2="449.90" y2="206.2" stroke="#222" stroke-width="1"/>
<text x="449.90" y="216.4" font-size="8.7" text-anchor="middle" fill="#111111" textLength="8.2" lengthAdjust="spacingAndGlyphs">10</text>
<line x1="464.36" y1="203.0" x2="464.36" y2="206.2" stroke="#222" stroke-width="1"/>
<text x="464.36" y="216.4" font-size="8.7" text-anchor="middle" fill="#111111" textLength="8.2" lengthAdjust="spacingAndGlyphs">11</text>
<line x1="478.82" y1="203.0" x2="478.82" y2="206.2" stroke="#222" stroke-width="1"/>
<text x="478.82" y="216.4" font-size="8.7" text-anchor="middle" fill="#111111" textLength="8.2" lengthAdjust="spacingAndGlyphs">12</text>
<line x1="493.28" y1="203.0" x2="493.28" y2="206.2" stroke="#222" stroke-width="1"/>
<text x="493.28" y="216.4" font-size="8.7" text-anchor="middle" fill="#111111" textLength="8.2" lengthAdjust="spacingAndGlyphs">13</text>
<line x1="507.74" y1="203.0" x2="507.74" y2="206.2" stroke="#222" stroke-width="1"/>
<text x="507.74" y="216.4" font-size="8.7" text-anchor="middle" fill="#111111" textLength="8.2" lengthAdjust="spacingAndGlyphs">14</text>
<line x1="302" y1="366.2" x2="511.2" y2="366.2" stroke="#222" stroke-width="1.5"/>
<line x1="305.30" y1="366.2" x2="305.30" y2="369.4" stroke="#222" stroke-width="1"/>
<text x="305.30" y="379.5" font-size="8.7" text-anchor="middle" fill="#111111">0</text>
<line x1="319.76" y1="366.2" x2="319.76" y2="369.4" stroke="#222" stroke-width="1"/>
<text x="319.76" y="379.5" font-size="8.7" text-anchor="middle" fill="#111111">1</text>
<line x1="334.22" y1="366.2" x2="334.22" y2="369.4" stroke="#222" stroke-width="1"/>
<text x="334.22" y="379.5" font-size="8.7" text-anchor="middle" fill="#111111">2</text>
<line x1="348.68" y1="366.2" x2="348.68" y2="369.4" stroke="#222" stroke-width="1"/>
<text x="348.68" y="379.5" font-size="8.7" text-anchor="middle" fill="#111111">3</text>
<line x1="363.14" y1="366.2" x2="363.14" y2="369.4" stroke="#222" stroke-width="1"/>
<text x="363.14" y="379.5" font-size="8.7" text-anchor="middle" fill="#111111">4</text>
<line x1="377.60" y1="366.2" x2="377.60" y2="369.4" stroke="#222" stroke-width="1"/>
<text x="377.60" y="379.5" font-size="8.7" text-anchor="middle" fill="#111111">5</text>
<line x1="392.06" y1="366.2" x2="392.06" y2="369.4" stroke="#222" stroke-width="1"/>
<text x="392.06" y="379.5" font-size="8.7" text-anchor="middle" fill="#111111">6</text>
<line x1="406.52" y1="366.2" x2="406.52" y2="369.4" stroke="#222" stroke-width="1"/>
<text x="406.52" y="379.5" font-size="8.7" text-anchor="middle" fill="#111111">7</text>
<line x1="420.98" y1="366.2" x2="420.98" y2="369.4" stroke="#222" stroke-width="1"/>
<text x="420.98" y="379.5" font-size="8.7" text-anchor="middle" fill="#111111">8</text>
<line x1="435.44" y1="366.2" x2="435.44" y2="369.4" stroke="#222" stroke-width="1"/>
<text x="435.44" y="379.5" font-size="8.7" text-anchor="middle" fill="#111111">9</text>
<line x1="449.90" y1="366.2" x2="449.90" y2="369.4" stroke="#222" stroke-width="1"/>
<text x="449.90" y="379.5" font-size="8.7" text-anchor="middle" fill="#111111" textLength="8.2" lengthAdjust="spacingAndGlyphs">10</text>
<line x1="464.36" y1="366.2" x2="464.36" y2="369.4" stroke="#222" stroke-width="1"/>
<text x="464.36" y="379.5" font-size="8.7" text-anchor="middle" fill="#111111" textLength="8.2" lengthAdjust="spacingAndGlyphs">11</text>
<line x1="478.82" y1="366.2" x2="478.82" y2="369.4" stroke="#222" stroke-width="1"/>
<text x="478.82" y="379.5" font-size="8.7" text-anchor="middle" fill="#111111" textLength="8.2" lengthAdjust="spacingAndGlyphs">12</text>
<line x1="493.28" y1="366.2" x2="493.28" y2="369.4" stroke="#222" stroke-width="1"/>
<text x="493.28" y="379.5" font-size="8.7" text-anchor="middle" fill="#111111" textLength="8.2" lengthAdjust="spacingAndGlyphs">13</text>
<line x1="507.74" y1="366.2" x2="507.74" y2="369.4" stroke="#222" stroke-width="1"/>
<text x="507.74" y="379.5" font-size="8.7" text-anchor="middle" fill="#111111" textLength="8.2" lengthAdjust="spacingAndGlyphs">14</text>
<text transform="translate(297.2,110.75) rotate(-90)" font-size="10" text-anchor="middle" fill="#111111" textLength="107.0" lengthAdjust="spacingAndGlyphs">Presence of BTK mutation</text>
<text transform="translate(296.9,294.75) rotate(-90)" font-size="10" text-anchor="middle" fill="#111111" textLength="104.5" lengthAdjust="spacingAndGlyphs">Absence of BTK mutation</text>
<text x="328.46" y="393.6" font-size="10.2" fill="#111111" textLength="156.89" lengthAdjust="spacingAndGlyphs">Time from sample collection (months)</text>
<text x="318.33" y="412.2" font-size="8.3" fill="#111111" textLength="83.30" lengthAdjust="spacingAndGlyphs">Progression on ibrutinib</text>
<text x="318.72" y="421.6" font-size="8.3" fill="#111111" textLength="98.38" lengthAdjust="spacingAndGlyphs">at any time during follow-up</text>
<text x="451.18" y="416.9" font-size="8.3" fill="#111111" textLength="11.10" lengthAdjust="spacingAndGlyphs">Yes</text>
<text x="483.26" y="416.9" font-size="8.3" fill="#111111" textLength="10.07" lengthAdjust="spacingAndGlyphs">No</text>
<text x="318.25" y="437.3" font-size="8.3" fill="#111111" textLength="32.36" lengthAdjust="spacingAndGlyphs">Outcome</text>
<text x="375.72" y="437.3" font-size="8.3" fill="#111111" textLength="36.04" lengthAdjust="spacingAndGlyphs">Venetoclax</text>
<text x="433.30" y="436.9" font-size="8.3" fill="#111111" textLength="20.17" lengthAdjust="spacingAndGlyphs">Death</text>
<text x="329.94" y="448.6" font-size="8.3" fill="#111111" textLength="130.03" lengthAdjust="spacingAndGlyphs">Stop ibrutinib without further treatment</text>
<rect x="439.2" y="410" width="9" height="8.9" fill="#d29c8c"/>
<rect x="472" y="410" width="8.8" height="8.9" fill="#74aa5b"/>
<polygon points="363.90,434.70 368.50,431.20 373.10,434.70 368.50,438.20" fill="#5c9fd6"/>
<rect x="423.5" y="432.3" width="7.30" height="5.30" fill="#111111"/>
<polygon points="318.40,450.2 322.70,443.0 327.00,450.2" fill="#b95b53"/>
<rect x="0" y="0" width="520" height="1" fill="#000"/>
<rect x="0" y="457" width="520" height="1" fill="#000"/>
<rect x="0" y="0" width="1" height="458" fill="#000"/>
<rect x="518" y="1" width="1" height="456" fill="#a8a8a8"/>
<rect x="519" y="0" width="1" height="458" fill="#4a4a4a"/>
</svg>
</body></html>
